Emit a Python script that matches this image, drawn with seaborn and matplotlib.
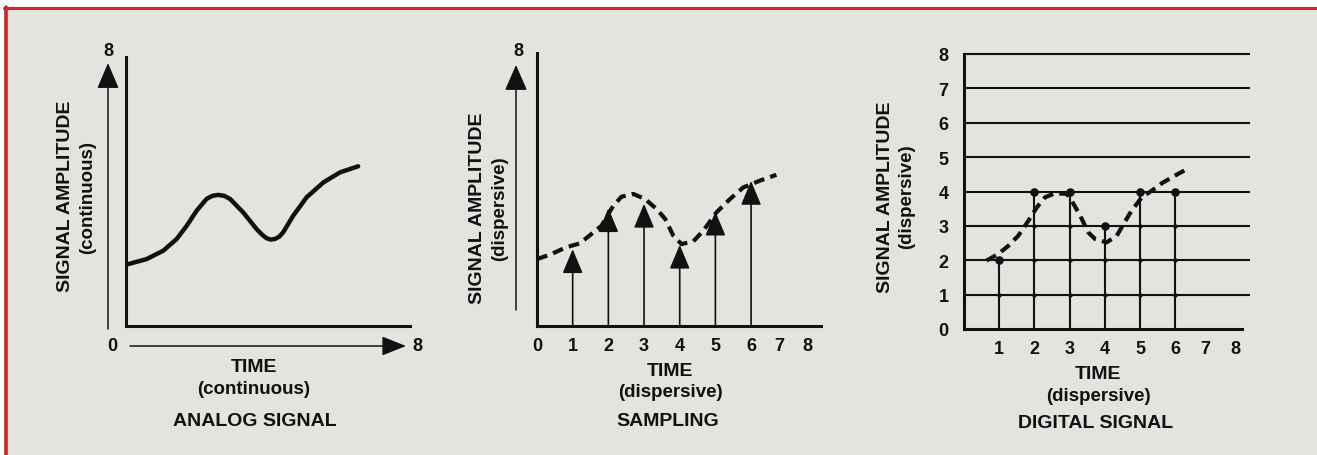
import matplotlib
matplotlib.use("Agg")
import matplotlib.pyplot as plt
import seaborn as sns
from matplotlib.patches import Rectangle

# --- data ---
analog_t = [0.06, 0.58, 1.05, 1.43, 1.71, 1.99, 2.27, 2.43, 2.60, 2.77, 2.93, 3.30, 3.68,
            3.83, 3.96, 4.08, 4.20, 4.32, 4.43, 4.71, 5.09, 5.56, 6.03, 6.54]
analog_amp = [1.84, 1.99, 2.24, 2.59, 2.98, 3.43, 3.78, 3.87, 3.90, 3.87, 3.78, 3.38, 2.88,
              2.72, 2.61, 2.57, 2.59, 2.66, 2.79, 3.28, 3.83, 4.27, 4.57, 4.75]

sample_curve_t = [0.0, 0.36, 0.83, 1.20, 1.53, 1.81, 2.14, 2.37, 2.70, 3.03, 3.35,
                  3.59, 3.82, 4.05, 4.38, 4.66, 5.03, 5.41, 5.78, 6.25, 6.71]
sample_curve_amp = [1.96, 2.09, 2.31, 2.42, 2.70, 2.94, 3.53, 3.79, 3.87, 3.72, 3.43,
                    3.14, 2.65, 2.40, 2.48, 2.79, 3.33, 3.72, 4.06, 4.26, 4.43]
sample_t = [1, 2, 3, 4, 5, 6]
sample_amp = [2.25, 3.45, 3.58, 2.38, 3.35, 4.25]
sample_tick_labels = ["0", "1", "2", "3", "4", "5", "6", "7", "8"]
sample_tick_pos = [0, 1, 2, 3, 4, 5, 6, 6.78, 7.59]

digital_curve_t = [0.64, 0.97, 1.26, 1.54, 1.83, 2.07, 2.30, 2.59, 2.92, 3.06, 3.30,
                   3.53, 3.72, 4.05, 4.34, 4.53, 4.76, 5.05, 5.33, 5.62, 5.99, 6.33]
digital_curve_amp = [1.99, 2.18, 2.42, 2.71, 3.15, 3.54, 3.83, 3.95, 3.93, 3.73, 3.30,
                     2.81, 2.62, 2.52, 2.71, 3.05, 3.44, 3.83, 4.02, 4.24, 4.46, 4.65]
digital_t = [1, 2, 3, 4, 5, 6]
digital_level = [2, 4, 4, 3, 4, 4]
digital_levels = [0, 1, 2, 3, 4, 5, 6, 7, 8]
digital_tick_labels = ["1", "2", "3", "4", "5", "6", "7", "8"]
digital_tick_pos = [1, 2, 3, 4, 5, 6, 6.85, 7.7]

# --- style ---
sns.set_theme(style="white")
plt.rcParams["font.family"] = ["Liberation Sans", "DejaVu Sans"]
INK = "#111111"
BG = "#e3e3df"
RED = "#d3262a"

W, H = 1317, 456
fig = plt.figure(figsize=(W / 100, H / 100), dpi=100)
fig.patch.set_facecolor("white")


def fx(px):
    return px / W


def fy(py):
    return 1 - py / H


def px_axes(left, top, right, bottom):
    ax = fig.add_axes([fx(left), fy(bottom), (right - left) / W, (bottom - top) / H])
    ax.set_facecolor("none")
    for s in ["top", "right"]:
        ax.spines[s].set_visible(False)
    for s in ["left", "bottom"]:
        ax.spines[s].set_color(INK)
        ax.spines[s].set_linewidth(2.2)
    ax.set_xticks([])
    ax.set_yticks([])
    return ax


def ftext(x, y, s, size=13, rot=0, weight="bold"):
    fig.text(fx(x), fy(y), s, ha="center", va="center", rotation=rot,
             fontsize=size, fontweight=weight, color=INK)


def fig_arrow(x0, y0, x1, y1, hl, hw):
    fig.add_artist(plt.matplotlib.patches.FancyArrowPatch(
        (fx(x0), fy(y0)), (fx(x1), fy(y1)), transform=fig.transFigure,
        arrowstyle=f"-|>,head_length={hl},head_width={hw}", mutation_scale=1,
        color=INK, lw=1.1, shrinkA=0, shrinkB=0))


# background panel with red frame (top and left)
fig.add_artist(Rectangle((fx(4), 0), 1 - fx(4), fy(8), transform=fig.transFigure,
                         facecolor=BG, edgecolor="none", zorder=-10))
fig.add_artist(plt.Line2D([fx(4), 1], [fy(8.5), fy(8.5)], transform=fig.transFigure,
                          color=RED, lw=2.2))
fig.add_artist(plt.Line2D([fx(5.5), fx(5.5)], [0, fy(8)], transform=fig.transFigure,
                          color=RED, lw=2.6))

dash = (2.6, 1.5)

# --- panel 1: analog signal ---
ax1 = px_axes(126, 58, 410, 327)
ax1.set_xlim(0, 8)
ax1.set_ylim(0, 8)
sns.lineplot(x=analog_t, y=analog_amp, ax=ax1, color=INK, lw=3.2)
ax1.lines[-1].set_solid_joinstyle("round")
ax1.lines[-1].set_solid_capstyle("round")
fig_arrow(108, 330, 108, 64, 16, 6.8)
fig_arrow(130, 347, 406, 347, 15, 6.0)
ftext(108, 51, "8")
ftext(112, 347, "0")
ftext(417, 347, "8")
ftext(65, 196, "SIGNAL AMPLITUDE", 14, 90)
ftext(88, 197, "(continuous)", 13.5, 90)
ftext(254, 368, "TIME", 14)
ftext(254, 390, "(continuous)", 13.5)
ftext(255, 422, "ANALOG SIGNAL", 14)

# --- panel 2: sampling ---
ax2 = px_axes(537, 54, 821, 327)
ax2.set_xlim(0, 7.96)
ax2.set_ylim(0, 8)
sns.lineplot(x=sample_curve_t, y=sample_curve_amp, ax=ax2, color=INK, lw=3.0)
ax2.lines[-1].set_dashes(dash)
for t, a in zip(sample_t, sample_amp):
    ax2.annotate("", xy=(t, a), xytext=(t, 0),
                 arrowprops=dict(arrowstyle="-|>,head_length=15,head_width=6.3",
                                 mutation_scale=1, color=INK, lw=1.2,
                                 shrinkA=0, shrinkB=0))
ax2.set_xticks(sample_tick_pos)
ax2.set_xticklabels(sample_tick_labels, fontsize=13, fontweight="bold", color=INK)
ax2.tick_params(axis="x", length=0, pad=8)
fig_arrow(516, 311, 516, 66, 16, 7.0)
ftext(518, 52, "8")
ftext(477, 208, "SIGNAL AMPLITUDE", 14, 90)
ftext(500, 209, "(dispersive)", 13.5, 90)
ftext(670, 371, "TIME", 14)
ftext(670, 393, "(dispersive)", 13.5)
ftext(668, 422, "SAMPLING", 14)

# --- panel 3: digital signal ---
ax3 = px_axes(964, 55, 1250, 330)
ax3.set_xlim(0, 8.125)
ax3.set_ylim(0, 8)
ax3.spines["bottom"].set_bounds(0, 7.9)
ax3.hlines(digital_levels[1:], 0, 8.125, color=INK, lw=1.5, clip_on=False)
ax3.vlines(digital_t, 0, digital_level, color=INK, lw=1.5)
cross_t = [t for t, lv in zip(digital_t, digital_level) for k in range(1, lv)]
cross_lv = [k for t, lv in zip(digital_t, digital_level) for k in range(1, lv)]
sns.scatterplot(x=cross_t, y=cross_lv, ax=ax3, color=INK, s=10, linewidth=0)
sns.lineplot(x=digital_curve_t, y=digital_curve_amp, ax=ax3, color=INK, lw=3.0)
ax3.lines[-1].set_dashes(dash)
sns.scatterplot(x=digital_t, y=digital_level, ax=ax3, color=INK, s=38, linewidth=0,
                zorder=5)
ax3.set_xticks(digital_tick_pos)
ax3.set_xticklabels(digital_tick_labels, fontsize=13, fontweight="bold", color=INK)
ax3.set_yticks(digital_levels)
ax3.set_yticklabels([str(v) for v in digital_levels], fontsize=13,
                    fontweight="bold", color=INK)
ax3.tick_params(axis="x", length=0, pad=8)
ax3.tick_params(axis="y", length=0, pad=11)
ftext(885, 197, "SIGNAL AMPLITUDE", 14, 90)
ftext(907, 197, "(dispersive)", 13.5, 90)
ftext(1098, 375, "TIME", 14)
ftext(1098, 397, "(dispersive)", 13.5)
ftext(1096, 424, "DIGITAL SIGNAL", 14)

fig.savefig("out.png", dpi=100, facecolor=fig.get_facecolor())
